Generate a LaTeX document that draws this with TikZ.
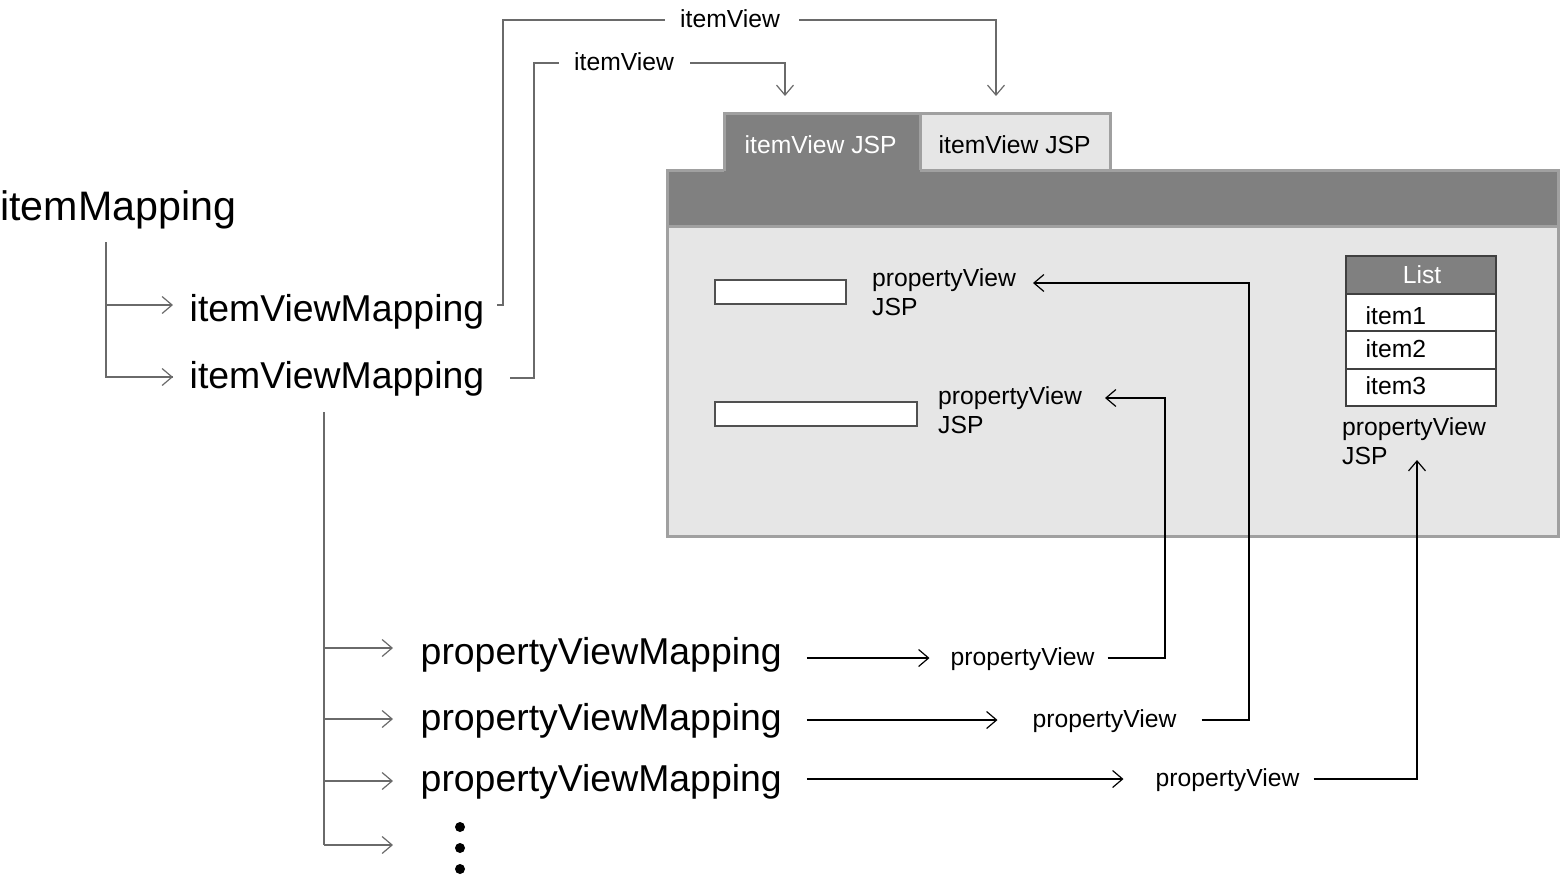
\documentclass[tikz,border=0pt]{standalone}
\usepackage{fontspec}
\setmainfont{Liberation Sans}
\usetikzlibrary{arrows.meta,calc}
\definecolor{dgray}{HTML}{808080}
\definecolor{lgray}{HTML}{E6E6E6}
\definecolor{bgray}{HTML}{A0A0A0}
\definecolor{lnc}{HTML}{6A6A6A}
\definecolor{boxc}{HTML}{505050}
\tikzset{
  lbl/.style={inner sep=0pt, anchor=base west, font=\fontsize{24.7}{29}\selectfont},
  midtxt/.style={inner sep=0pt, anchor=base west, font=\fontsize{37.4}{44}\selectfont},
  bigtxt/.style={inner sep=0pt, anchor=base west, font=\fontsize{41.2}{48}\selectfont},
  conn/.style={line width=1.2pt, draw=black},
  gconn/.style={line width=1.2pt, draw=lnc},
  tip/.style={-{Straight Barb[length=10pt,width=17pt]}},
  frame/.style={draw=bgray, line width=3pt},
  field/.style={draw=boxc, line width=1.3pt, fill=white},
}
\begin{document}
\begin{tikzpicture}[x=1pt,y=-1pt]
\path[use as bounding box] (0,0) rectangle (1560,876);

% window
\draw[frame, fill=lgray] (667,170) rectangle (1558,536);
\draw[frame, fill=dgray] (667,170) rectangle (1558,226);
\draw[frame, fill=lgray] (920,113) rectangle (1110,170);
\fill[dgray] (724,113) rectangle (920,172);
\draw[frame] (724,171) -- (724,113) -- (920,113) -- (920,170);
\node[lbl, text=white] (tab1) at (744.5,153) {itemView JSP};
\node[lbl] (tab2) at (938.5,153) {itemView JSP};

% fields
\draw[field] (715,280) rectangle (846,304);
\draw[field] (715,402) rectangle (917,426);
\node[lbl, align=left] (pvj1) at (872,315) {propertyView\\JSP};
\node[lbl, align=left] (pvj2) at (938,433) {propertyView\\JSP};

% list
\draw[field, draw=black!75] (1346,256) rectangle (1496,406);
\draw[field, draw=black!75, fill=dgray] (1346,256) rectangle (1496,294);
\draw[line width=1.3pt, draw=black!75] (1346,331) -- (1496,331);
\draw[line width=1.3pt, draw=black!75] (1346,369) -- (1496,369);
\node[lbl, anchor=base, text=white] (lhead) at (1422,283) {List};
\node[lbl] (it1) at (1365.5,324) {item1};
\node[lbl] (it2) at (1365.5,357) {item2};
\node[lbl] (it3) at (1365.5,394) {item3};
\node[lbl, align=left] (pvj3) at (1342,464) {propertyView\\JSP};

% mapping texts
\node[bigtxt] (im) at (0,220) {itemMapping};
\node[midtxt] (ivm1) at (189.5,321) {itemViewMapping};
\node[midtxt] (ivm2) at (189.5,388) {itemViewMapping};
\node[midtxt] (pvm1) at (420.5,664) {propertyViewMapping};
\node[midtxt] (pvm2) at (420.5,730) {propertyViewMapping};
\node[midtxt] (pvm3) at (420.5,791) {propertyViewMapping};

% labels
\node[lbl] (iv1) at (680,27) {itemView};
\node[lbl] (iv2) at (574,70) {itemView};
\node[lbl] (pv1) at (950.5,665) {propertyView};
\node[lbl] (pv2) at (1032.5,727) {propertyView};
\node[lbl] (pv3) at (1155.5,786) {propertyView};

% coordinates
\coordinate (tA) at (106,242);
\coordinate (a1) at (173,305);
\coordinate (a2) at (173,377);
\coordinate (tB) at (324,412);
\coordinate (b1) at (393,648);
\coordinate (b2) at (393,719);
\coordinate (b3) at (393,781);
\coordinate (b4) at (393,845);
\coordinate (s1) at (497,305);
\coordinate (s2) at (510,378);
\coordinate (e1) at (1105,398);
\coordinate (j1) at (1165,398);
\coordinate (e2) at (1033,283);
\coordinate (j2) at (1249,283);
\coordinate (e3) at (1417,460);
\coordinate (tabin1) at (785,96);
\coordinate (tabin2) at (996,96);

% item tree
\draw[gconn] (tA) |- (a2);
\draw[gconn, tip] (tA |- a1) -- (a1);
\draw[gconn, tip] (tA |- a2) -- (a2);

% property tree
\draw[gconn] (tB) -- (tB |- b4);
\draw[gconn, tip] (tB |- b1) -- (b1);
\draw[gconn, tip] (tB |- b2) -- (b2);
\draw[gconn, tip] (tB |- b3) -- (b3);
\draw[gconn, tip] (tB |- b4) -- (b4);

% itemView connectors
\draw[gconn] (s1) -| ($(503,0 |- iv1.base)+(0,-7)$) -- ($(iv1.base west)+(-15,-7)$);
\draw[gconn, tip] ($(iv1.base east)+(19,-7)$) -| (tabin2);
\draw[gconn] (s2) -| ($(534,0 |- iv2.base)+(0,-7)$) -- ($(iv2.base west)+(-15,-7)$);
\draw[gconn, tip] ($(iv2.base east)+(16,-7)$) -| (tabin1);

% propertyView connectors
\draw[conn, tip] ($(pvm1.east |- pv1.base)+(25,-7)$) -- ($(pv1.base west)+(-21,-7)$);
\draw[conn, tip] ($(pv1.base east)+(13,-7)$) -| (j1) -- (e1);
\draw[conn, tip] ($(pvm2.east |- pv2.base)+(25,-7)$) -- ($(pv2.base west)+(-35,-7)$);
\draw[conn, tip] ($(pv2.base east)+(25,-7)$) -| (j2) -- (e2);
\draw[conn, tip] ($(pvm3.east |- pv3.base)+(25,-7)$) -- ($(pv3.base west)+(-32,-7)$);
\draw[conn, tip] ($(pv3.base east)+(14,-7)$) -| (e3);

% dots
\fill (460,827) circle (5pt);
\fill (460,848) circle (5pt);
\fill (460,869) circle (5pt);
\end{tikzpicture}
\end{document}
